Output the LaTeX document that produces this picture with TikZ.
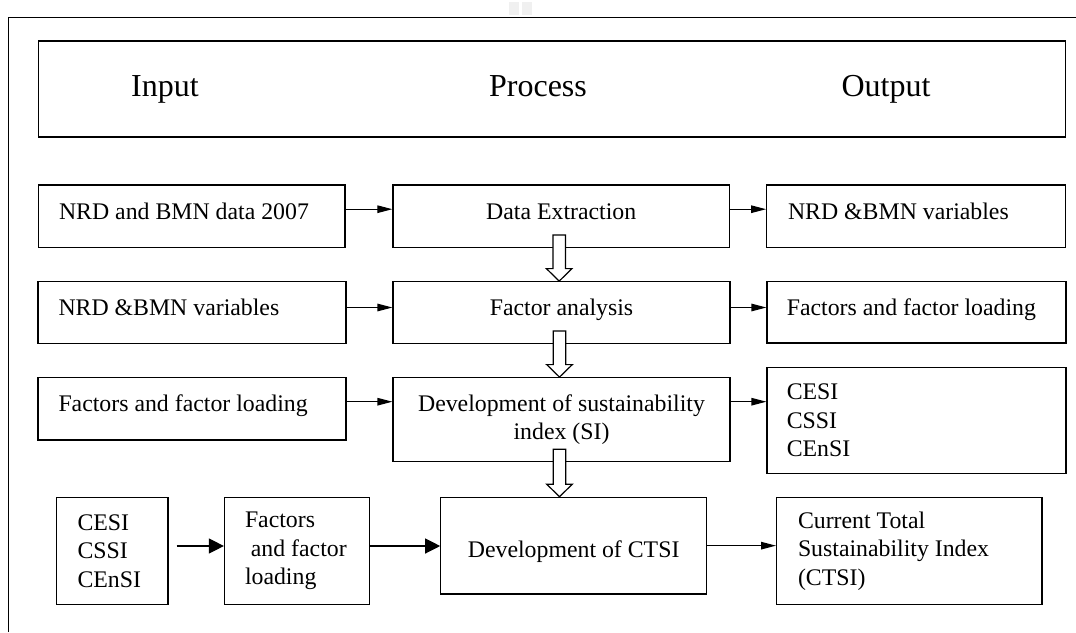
\documentclass[tikz,border=0pt]{standalone}
\usepackage{fontspec}
\setmainfont{Liberation Serif}
\usetikzlibrary{arrows.meta,calc}
\newcommand\boxfont{\fontsize{23.8}{28.5}\selectfont}
\newcommand\headfont{\fontsize{32}{38}\selectfont}
\newcommand\hollowdown[2]{%
  \draw[hollow] let \p1=(#1.south), \p2=(#2.north) in
    (\x1-8.3pt,\y1+13pt) -- (\x1+4.3pt,\y1+13pt) -- (\x1+4.3pt,\y2+12.5pt) --
    (\x1+10.8pt,\y2+12.5pt) -- (\x1-2pt,\y2) -- (\x1-14.8pt,\y2+12.5pt) --
    (\x1-8.3pt,\y2+12.5pt) -- cycle;}
\begin{document}
\begin{tikzpicture}[x=1pt,y=-1pt,
  frame/.style={line width=1.2pt},
  box/.style={draw,line width=1.2pt,inner xsep=0pt,inner ysep=0pt,font=\boxfont},
  single/.style={text height=12pt,text depth=6pt},
  cbox/.style={box,align=center},
  lbox/.style={box,align=flush left},
  head/.style={font=\headfont,anchor=base,inner sep=0pt},
  arr/.style={line width=1.2pt,-{Triangle[length=15pt,width=7.5pt]}},
  arrw/.style={line width=1.2pt,-{Triangle[length=15pt,width=15pt]}},
  hollow/.style={draw,fill=white,line width=1.2pt,line join=miter}
]
\useasboundingbox (0,0) rectangle (1076,632);
% faint mark at the top
\fill[gray!12] (509,1.5) rectangle (519,15);
\fill[gray!12] (522,1.5) rectangle (532,15);
% outer frame (left and top edges)
\draw[frame] (8.6,632) -- (8.6,17.3) -- (1076,17.3);
% header
\node[box,minimum width=1027pt,minimum height=96pt] (hdr) at (552,89) {};
\node[head] (hin) at (165,96) {Input};
\node[head] (hproc) at (538,96) {Process};
\node[head] (hout) at (886,96) {Output};
% row 1
\node[lbox,single,minimum width=306.7pt,minimum height=62.3pt,text width=265.3pt] (r1a) at (191.7,216.2) {NRD and BMN data 2007};
\node[cbox,single,minimum width=336.5pt,minimum height=62.3pt] (r1b) at (561.2,216.2) {Data Extraction};
\node[lbox,single,minimum width=299pt,minimum height=62.3pt,text width=256.4pt] (r1c) at (916.2,216.2) {NRD \&BMN variables};
% row 2
\node[lbox,single,minimum width=308pt,minimum height=61.6pt,text width=267pt] (r2a) at (192,312.5) {NRD \&BMN variables};
\node[cbox,single,minimum width=337pt,minimum height=61.6pt] (r2b) at (561.5,312.5) {Factor analysis};
\node[lbox,single,minimum width=299pt,minimum height=61.6pt,text width=259.4pt] (r2c) at (916.5,312.2) {Factors and factor loading};
% row 3
\node[lbox,single,minimum width=308pt,minimum height=62.7pt,text width=267pt] (r3a) at (192,408.7) {Factors and factor loading};
\node[cbox,minimum width=337pt,minimum height=84pt] (r3b) at (561.5,419.7) {Development of sustainability\\index (SI)};
\node[lbox,minimum width=299pt,minimum height=106pt,text width=259.4pt] (r3c) at (916.5,420.3) {CESI\\CSSI\\CEnSI};
% bottom row
\node[lbox,minimum width=111.2pt,minimum height=107pt,text width=69.8pt] (ba) at (112.4,550.8) {CESI\\CSSI\\CEnSI};
\node[lbox,minimum width=145pt,minimum height=107pt,text width=104pt] (bb) at (297,550.8) {Factors\\\hspace*{5.9pt}and factor\\loading};
\node[cbox,minimum width=265.7pt,minimum height=96.7pt,text height=23pt,text depth=0pt] (bc) at (573.65,545.65) {Development of CTSI};
\node[lbox,minimum width=265.4pt,minimum height=107pt,text width=222.6pt] (bd) at (909.3,550.8) {Current Total\\Sustainability Index\\(CTSI)};
% horizontal connectors
\draw[arr] ([yshift=7pt]r1a.east) -- ([yshift=7pt]r1a.east -| r1b.west);
\draw[arr] ([yshift=7pt]r1b.east) -- ([yshift=7pt]r1b.east -| r1c.west);
\draw[arr] ([yshift=5pt]r2a.east) -- ([yshift=5pt]r2a.east -| r2b.west);
\draw[arr] ([yshift=5pt]r2b.east) -- ([yshift=5pt]r2b.east -| r2c.west);
\draw[arr] ([yshift=7pt]r3a.east) -- ([yshift=7pt]r3a.east -| r3b.west);
\draw[arr] ([yshift=18pt]r3b.east) -- ([yshift=18pt]r3b.east -| r3c.west);
\draw[arrw] ([xshift=8pt,yshift=4.8pt]ba.east) -- ([yshift=4.8pt]ba.east -| bb.west);
\draw[arrw] ([yshift=4.8pt]bb.east) -- ([yshift=4.8pt]bb.east -| bc.west);
\draw[arr] (bc.east) -- (bc.east -| bd.west);
% hollow block arrows
\hollowdown{r1b}{r2b}
\hollowdown{r2b}{r3b}
\hollowdown{r3b}{bc}
\end{tikzpicture}
\end{document}
